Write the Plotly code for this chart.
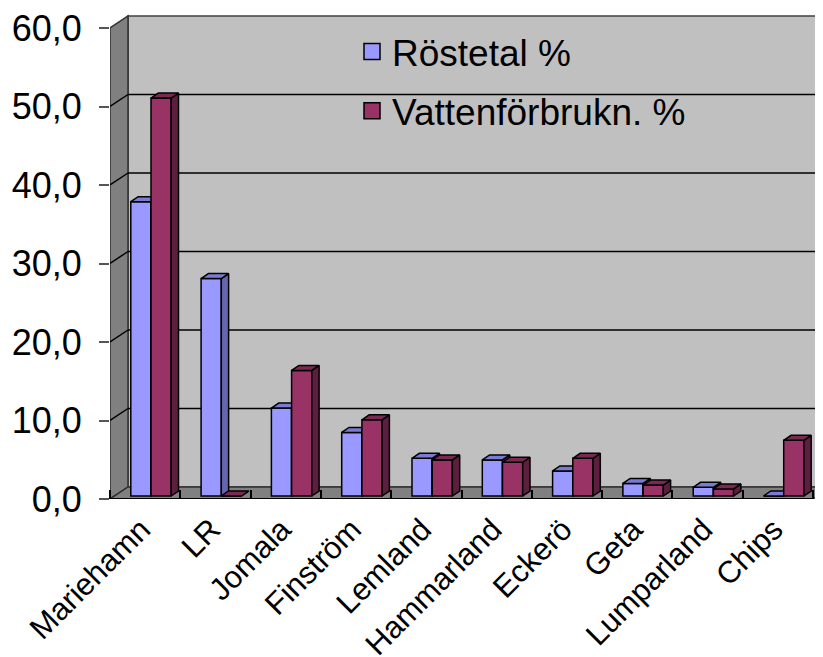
import plotly.graph_objects as go

# ---------------- data ----------------
categories = ["Mariehamn", "LR", "Jomala", "Finström", "Lemland",
              "Hammarland", "Eckerö", "Geta", "Lumparland", "Chips"]
rostetal = [37.5, 27.7, 11.2, 8.1, 4.8, 4.6, 3.2, 1.6, 1.1, 0.0]
vatten = [50.7, 0.0, 16.0, 9.7, 4.6, 4.3, 4.8, 1.4, 0.9, 7.1]
series_names = ["Röstetal %", "Vattenförbrukn. %"]
y_ticks = [0, 10, 20, 30, 40, 50, 60]

# ---------------- geometry (screen pixels) ----------------
WIN_W, WIN_H = 823, 657
BODY = 8                                      # default page margin of the html body
W, H = WIN_W - BODY, WIN_H - BODY
PL, PR, PT, PB = 110, 823, 10, 499            # plot area (screen px)
SX, SY = 70.3, 7.85                           # px per category / per value unit
X0 = 145.15                                   # px of first category centre (front)


def ddx(px):
    return px / SX


def ddy(px):
    return px / SY


def px_to_paper_x(px):
    return (px - PL) / (PR - PL)


def px_to_paper_y(py):
    return (PB - py) / (PB - PT)


xr_min, xr_max = (PL - X0) / SX, (PR - X0) / SX
yr_max = (PB - PT) / SY

FDX, FDY = ddx(18), ddy(12)       # floor / wall depth
BW = ddx(20.2)                    # bar width
SHIFT = ddx(5.85)                 # pair centre shift (depth)
BASE = ddy(3)                     # bar front base above floor front
BDX, BDY = ddx(7.3), ddy(5)       # bar depth

FONT = "Liberation Sans, Arial, sans-serif"

blue = dict(front="#9999FF", top="#7B7BD4", side="#6666AE")
red = dict(front="#993366", top="#7A2952", side="#5C1F3F")

fig = go.Figure()


def add_series(vals, offset, col, xa, ya, name):
    xs_top, ys_top, xs_side, ys_side = [], [], [], []
    for i, v in enumerate(vals):
        xl = i + offset
        xr = xl + BW
        top = BASE + v
        xs_top += [xl, xr, xr + BDX, xl + BDX, xl, None]
        ys_top += [top, top, top + BDY, top + BDY, top, None]
        xs_side += [xr, xr + BDX, xr + BDX, xr, xr, None]
        ys_side += [BASE, BASE + BDY, top + BDY, top, BASE, None]
    fig.add_trace(go.Bar(
        x=list(range(len(vals))), y=vals, base=BASE, width=BW, offset=offset,
        marker=dict(color=col["front"], line=dict(color="black", width=1.5)),
        name=name, showlegend=False, hoverinfo="skip", xaxis=xa, yaxis=ya))
    fig.add_trace(go.Scatter(
        x=xs_side, y=ys_side, mode="lines", fill="toself", fillcolor=col["side"],
        line=dict(color="black", width=1.5), showlegend=False, hoverinfo="skip",
        xaxis=xa, yaxis=ya))
    fig.add_trace(go.Scatter(
        x=xs_top, y=ys_top, mode="lines", fill="toself", fillcolor=col["top"],
        line=dict(color="black", width=1.5), showlegend=False, hoverinfo="skip",
        xaxis=xa, yaxis=ya))


add_series(rostetal, SHIFT - BW, blue, "x", "y", series_names[0])
add_series(vatten, SHIFT, red, "x2", "y2", series_names[1])

# legend entries
for nm, col, grp in [(series_names[0], blue, "a"), (series_names[1], red, "b")]:
    fig.add_trace(go.Scatter(
        x=[None], y=[None], mode="markers", name=nm, legendgroup=grp,
        marker=dict(symbol="square", size=16, color=col["front"],
                    line=dict(color="black", width=1.5))))

# ---------------- walls, floor, gridlines ----------------
n = len(categories)
shapes = []
# back wall
shapes.append(dict(type="rect", xref="x", yref="y",
                   x0=-0.5 + FDX, x1=xr_max + 1, y0=FDY, y1=y_ticks[-1] + FDY,
                   fillcolor="#C0C0C0", line=dict(color="#404040", width=1.5),
                   layer="below"))
# left wall
shapes.append(dict(type="path", xref="x", yref="y",
                   path=f"M {-0.5},{0} L {-0.5 + FDX},{FDY} L {-0.5 + FDX},{y_ticks[-1] + FDY} "
                        f"L {-0.5},{y_ticks[-1]} Z",
                   fillcolor="#808080", line=dict(color="#303030", width=1.5),
                   layer="below"))
# floor
shapes.append(dict(type="path", xref="x", yref="y",
                   path=f"M {-0.5},{0} L {n - 0.5},{0} L {n - 0.5 + FDX},{FDY} "
                        f"L {-0.5 + FDX},{FDY} Z",
                   fillcolor="#808080", line=dict(color="#303030", width=1.5),
                   layer="below"))
# gridlines
for v in y_ticks[1:-1]:
    shapes.append(dict(type="line", xref="x", yref="y",
                       x0=-0.5, y0=v, x1=-0.5 + FDX, y1=v + FDY,
                       line=dict(color="black", width=1.5), layer="below"))
    shapes.append(dict(type="line", xref="x", yref="y",
                       x0=-0.5 + FDX, y0=v + FDY, x1=xr_max + 1, y1=v + FDY,
                       line=dict(color="black", width=1.5), layer="below"))
# floor front edge
shapes.append(dict(type="line", xref="x", yref="y",
                   x0=-0.5, y0=0, x1=n - 0.5, y1=0,
                   line=dict(color="black", width=2), layer="below"))
# legend box background (covers gridlines)
shapes.append(dict(type="rect", xref="paper", yref="paper",
                   x0=px_to_paper_x(318), x1=px_to_paper_x(740),
                   y0=px_to_paper_y(145), y1=px_to_paper_y(22),
                   fillcolor="#C0C0C0", line=dict(width=0), layer="below"))

fig.update_layout(
    width=W, height=H, autosize=False,
    margin=dict(l=PL - BODY, r=WIN_W - PR, t=PT - BODY, b=WIN_H - PB,
                pad=0, autoexpand=False),
    paper_bgcolor="white", plot_bgcolor="rgba(0,0,0,0)",
    separators=", ",
    barmode="overlay",
    font=dict(family=FONT, color="black"),
    shapes=shapes,
    showlegend=True,
    legend=dict(xref="paper", yref="paper",
                x=px_to_paper_x(352), y=px_to_paper_y(21),
                xanchor="left", yanchor="top",
                bgcolor="rgba(0,0,0,0)", borderwidth=0,
                font=dict(family=FONT, size=37, color="black"),
                tracegroupgap=8, traceorder="grouped"),
    xaxis=dict(range=[xr_min, xr_max], showgrid=False, zeroline=False,
               showline=False, tickmode="array", tickvals=list(range(n)),
               ticktext=categories, tickangle=-45, ticks="",
               ticklabelshift=-4, ticklabelstandoff=5,
               ticklabeloverflow="allow",
               tickfont=dict(family=FONT, size=31, color="black"),
               minor=dict(ticks="inside", ticklen=9, tickwidth=1.5,
                          tickcolor="black", tickmode="array",
                          tickvals=[i - 0.5 for i in range(n + 1)]),
               automargin=False, fixedrange=True),
    yaxis=dict(range=[0, yr_max], showgrid=False, zeroline=False,
               showline=False, tickmode="array", tickvals=y_ticks,
               tickformat=".1f", ticks="outside", ticklen=10, tickwidth=1.5,
               tickcolor="#555555", ticklabelstandoff=10,
               ticklabeloverflow="allow",
               tickfont=dict(family=FONT, size=36, color="black"),
               automargin=False, fixedrange=True),
    xaxis2=dict(range=[xr_min, xr_max], overlaying="x", visible=False,
                fixedrange=True),
    yaxis2=dict(range=[0, yr_max], overlaying="y", visible=False,
                fixedrange=True),
)

fig.write_html("out.html")
